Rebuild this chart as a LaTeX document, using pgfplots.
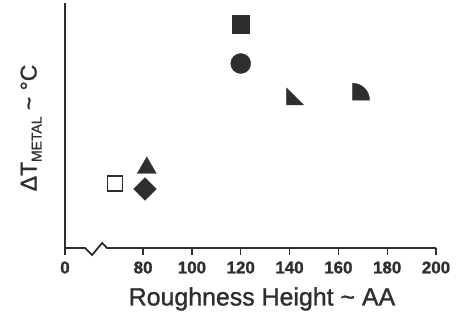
\documentclass[border=0pt]{standalone}
\usepackage{pgfplots}
\pgfplotsset{compat=1.18}
\usepackage{fontspec}
\setmainfont{Liberation Sans}[FakeBold=1.2]
\definecolor{ink}{HTML}{2E2E2E}
\pgfdeclareplotmark{rtri}{%
  \pgfpathmoveto{\pgfqpoint{-\pgfplotmarksize}{\pgfplotmarksize}}%
  \pgfpathlineto{\pgfqpoint{-\pgfplotmarksize}{-\pgfplotmarksize}}%
  \pgfpathlineto{\pgfqpoint{\pgfplotmarksize}{-\pgfplotmarksize}}%
  \pgfpathclose\pgfusepathqfillstroke}
\pgfdeclareplotmark{qcirc}{%
  \pgfpathmoveto{\pgfqpoint{-\pgfplotmarksize}{-\pgfplotmarksize}}%
  \pgfpathlineto{\pgfqpoint{-\pgfplotmarksize}{\pgfplotmarksize}}%
  \pgfpatharc{90}{0}{2\pgfplotmarksize}%
  \pgfpathclose\pgfusepathqfillstroke}
\begin{document}
\begin{tikzpicture}
\useasboundingbox (-65bp,-72bp) rectangle (395bp,248bp);
\begin{axis}[
  at={(0,0)}, anchor=south west,
  scale only axis, width=371bp, height=245bp,
  xmin=48, xmax=200, ymin=0, ymax=245,
  axis lines*=left,
  x axis line style={draw=none},
  axis line style={ink, line width=1.8pt},
  xtick={48,80,100,120,140,160,180,200},
  xticklabels={0,80,100,120,140,160,180,200},
  ytick=\empty,
  tick align=outside,
  major tick length=7bp,
  tick style={ink, line width=1.3pt},
  xticklabel style={font=\fontsize{17}{18}\selectfont\bfseries, text=ink, yshift=-3bp},
  clip=false,
  xlabel={Roughness Height \char`\~{} AA},
  xlabel style={at={(axis description cs:0.531,0)}, anchor=center, yshift=-51bp, font=\fontsize{25}{26}\selectfont, text=ink},
  ylabel={ΔT\raisebox{-0.4ex}{\fontsize{14}{15}\selectfont METAL} \char`\~{} °C},
  ylabel style={at={(axis description cs:0,0.49)}, anchor=center, yshift=34bp, font=\fontsize{23}{24}\selectfont, text=ink},
]
% broken x axis line
\draw[ink, line width=1.8pt, line join=miter]
  (axis cs:48,0) -- (axis cs:56.2,0) -- (axis cs:59.1,-7) -- (axis cs:63.2,5) -- (axis cs:65.2,0) -- (axis cs:200,0);
\addplot[only marks, mark=square*, mark size=8.8bp, ink, mark options={fill=ink}] coordinates {(120,224)};
\addplot[only marks, mark=*, mark size=10bp, ink, mark options={fill=ink}] coordinates {(120,184.5)};
\addplot[only marks, mark=rtri, mark size=8.5bp, ink, mark options={fill=ink}] coordinates {(142.3,151.5)};
\addplot[only marks, mark=qcirc, mark size=8.5bp, ink, mark options={fill=ink}] coordinates {(169.3,156.3)};
\addplot[only marks, mark=triangle*, mark size=11bp, ink, mark options={fill=ink}] coordinates {(81.5,80)};
\addplot[only marks, mark=square*, mark size=8bp, ink, mark options={fill=ink, rotate=45}] coordinates {(80.8,59)};
\addplot[only marks, mark=square, mark size=7.5bp, ink, mark options={line width=1.5pt}] coordinates {(68.5,64.5)};
\end{axis}
\end{tikzpicture}
\end{document}
